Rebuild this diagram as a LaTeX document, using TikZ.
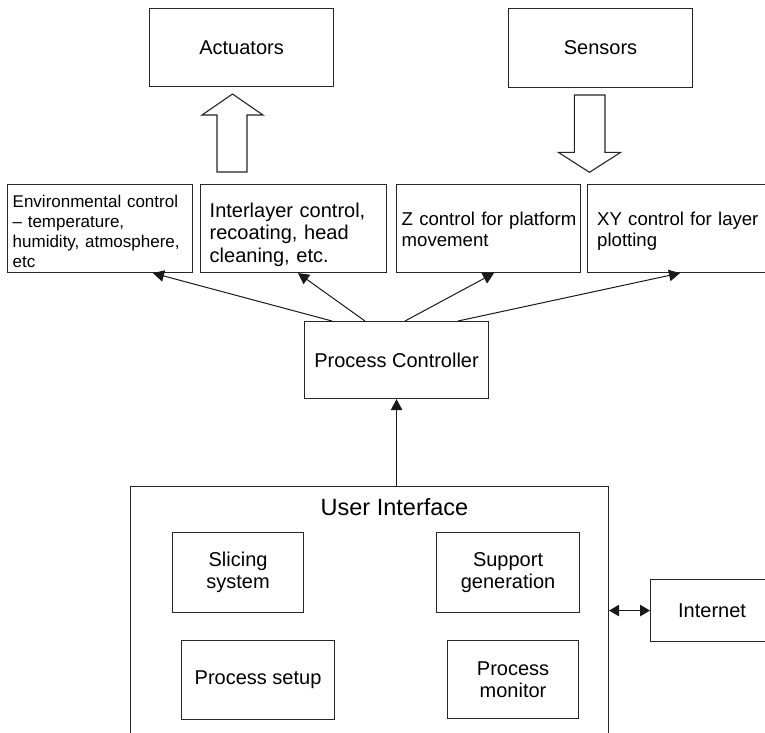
\documentclass[tikz,border=0pt]{standalone}
\usepackage{fontspec}
\setmainfont{Liberation Sans}
\usetikzlibrary{arrows.meta,calc}
\begin{document}
\begin{tikzpicture}[x=1pt,y=-1pt,
  box/.style={draw=black!85, line width=1.1pt, rectangle, inner sep=0pt, anchor=north west, align=center, font=\fontsize{20}{22.5}\selectfont},
  lbl/.style={anchor=base west, inner sep=0pt, align=left},
  tip/.style={},
  arr/.style={draw=black!90, line width=1pt, -{Triangle[length=11pt,width=11.5pt]}},
  darr/.style={draw=black!90, line width=1pt, {Triangle[length=10pt,width=11.5pt]}-{Triangle[length=10pt,width=11.5pt]}},
  blockarrow/.style={draw=black!85, line width=1.1pt, fill=white, line join=miter}]
\useasboundingbox (0,0) rectangle (765,732);

% top boxes
\node[box, minimum width=184pt, minimum height=78pt] (act) at (149,8) {Actuators};
\node[box, minimum width=184pt, minimum height=79pt] (sen) at (508,8) {Sensors};

% control boxes
\node[box, minimum width=185pt, minimum height=88pt] (env) at (7,184) {};
\node[box, minimum width=186pt, minimum height=88pt] (inter) at (200,184) {};
\node[box, minimum width=184pt, minimum height=88pt] (zc) at (396,184) {};
\node[box, minimum width=185pt, minimum height=88pt] (xy) at (587,184) {};

\node[lbl, text width=182pt, font=\fontsize{17}{20}\selectfont] (envt) at ($(env.north west)+(5.5,23)$) {Environmental control\\– temperature,\\humidity, atmosphere,\\etc};
\node[lbl, text width=182pt, font=\fontsize{20}{22.5}\selectfont] (intert) at ($(inter.north west)+(9.5,33)$) {Interlayer control,\\recoating, head\\cleaning, etc.};
\node[lbl, text width=182pt, font=\fontsize{18.6}{21}\selectfont] (zct) at ($(zc.north west)+(5.5,41)$) {Z control for platform\\movement};
\node[lbl, text width=182pt, font=\fontsize{18.6}{21}\selectfont] (xyt) at ($(xy.north west)+(10,41)$) {XY control for layer\\plotting};

% block arrows
\draw[blockarrow] (217,172) -- (217,115) -- (202,115) -- (232.5,94) -- (263,115) -- (247,115) -- (247,172) -- cycle;
\draw[blockarrow] (574.3,95) -- (574.3,152.3) -- (558.3,152.3) -- (589.5,172.3) -- (620.7,152.3) -- (605,152.3) -- (605,95) -- cycle;

% process controller
\node[box, minimum width=184pt, minimum height=77pt] (pc) at (304,321) {Process Controller};

\draw[arr] ($(pc.north west)+(28,0)$) -- ($(env.south west)+(146,0)$);
\draw[arr] ($(pc.north west)+(61,0)$) -- ($(inter.south west)+(98,0)$);
\draw[arr] ($(pc.north west)+(101,0)$) -- ($(zc.south west)+(98,0)$);
\draw[arr] ($(pc.north west)+(154,0)$) -- ($(xy.south west)+(93,0)$);

% user interface
\node[box, minimum width=478pt, minimum height=280pt] (ui) at (130,486) {};
\node[anchor=base, inner sep=0pt, font=\fontsize{23.5}{26}\selectfont] (uit) at ($(ui.north west)+(264.5,29)$) {User Interface};

\node[box, minimum width=131pt, minimum height=80pt] (slice) at (172,532) {Slicing\\system};
\node[box, minimum width=143pt, minimum height=80pt] (supp) at (436,532) {Support\\generation};
\node[box, minimum width=153pt, minimum height=79pt] (psetup) at (181,640) {Process setup};
\node[box, minimum width=131pt, minimum height=78pt] (pmon) at (447,640) {Process\\monitor};

\node[box, minimum width=123pt, minimum height=62pt] (inet) at (650,579) {Internet};

\draw[arr] (ui.north -| pc.south) -- (pc.south);
\draw[darr] (inet.west -| ui.east) -- (inet.west);
\end{tikzpicture}
\end{document}
